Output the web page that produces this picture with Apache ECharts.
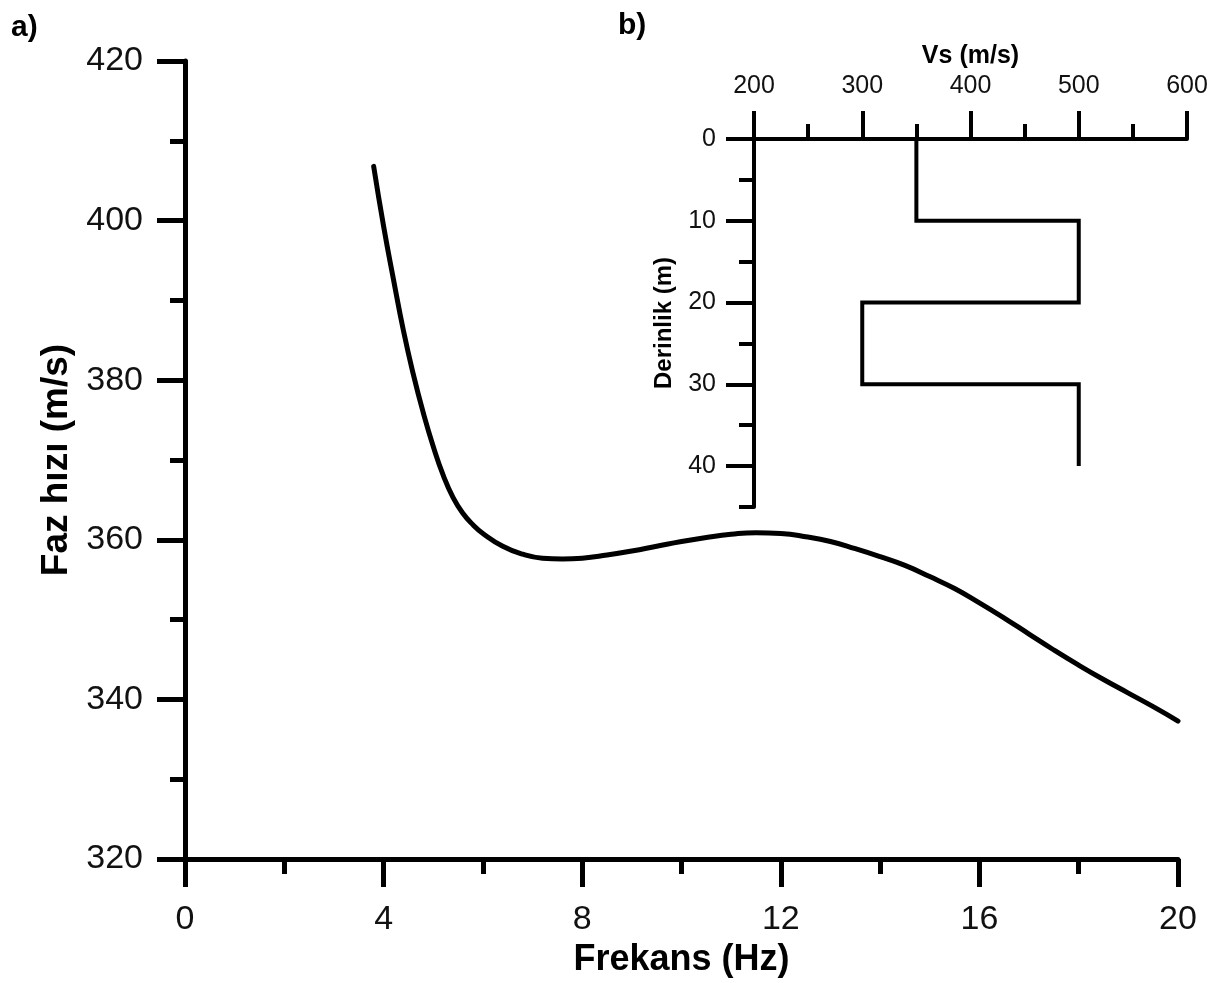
<!DOCTYPE html>
<html>
<head>
<meta charset="utf-8">
<script src="https://cdn.jsdelivr.net/npm/echarts@6/dist/echarts.min.js"></script>
<style>
html,body{margin:0;padding:0;background:#fff;}
#chart{width:1221px;height:983px;}
</style>
</head>
<body>
<div id="chart"></div>
<script>
// Main dispersion curve: frequency (Hz) vs phase velocity (m/s)
var freqHz = [3.8, 4.0, 4.2, 4.4, 4.6, 4.8, 5.0, 5.2, 5.4, 5.6, 5.8, 6.0, 6.4, 6.8, 7.2, 7.6, 8.0, 8.5, 9.0, 9.5, 10.0, 10.5, 11.0, 11.5, 12.0, 12.5, 13.0, 13.5, 14.0, 14.5, 15.0, 15.5, 16.0, 16.5, 17.0, 17.5, 18.0, 18.5, 19.0, 19.5, 20.0];
var phaseVel = [406.8, 399.3, 392.6, 386.2, 380.7, 375.9, 371.7, 368.1, 365.3, 363.3, 361.9, 360.8, 359.2, 358.2, 357.7, 357.6, 357.7, 358.1, 358.6, 359.2, 359.8, 360.3, 360.7, 360.9, 360.8, 360.4, 359.8, 358.9, 357.9, 356.8, 355.4, 353.9, 352.1, 350.2, 348.2, 346.2, 344.3, 342.5, 340.8, 339.1, 337.3];

// Inset: Vs profile (step) vs depth
var vsProfile = [350, 350, 500, 500, 300, 300, 500, 500];
var depthProfile = [0, 10, 10, 20, 20, 30, 30, 40];

var xTicksMain = [0, 4, 8, 12, 16, 20];
var yTicksMain = [320, 340, 360, 380, 400, 420];
var vsTicks = [200, 300, 400, 500, 600];
var depthMajor = [0, 10, 20, 30, 40];
var depthMinor = [5, 15, 25, 35, 45];

var FONT = '"Liberation Sans", Arial, Helvetica, sans-serif';
var INK = '#000';

var mainData = freqHz.map(function (f, i) { return [f, phaseVel[i]]; });
var insetData = vsProfile.map(function (v, i) { return [v, depthProfile[i]]; });

var chart = echarts.init(document.getElementById('chart'), null, {renderer: 'canvas'});
chart.setOption({
  backgroundColor: '#fff',
  animation: false,
  title: [
    {text: 'a)', left: 6, top: 8, textStyle: {fontFamily: FONT, fontWeight: 'bold', fontSize: 30, color: INK}},
    {text: 'b)', left: 613, top: 6, textStyle: {fontFamily: FONT, fontWeight: 'bold', fontSize: 30, color: INK}}
  ],
  grid: [
    {left: 185, right: 43, top: 61, bottom: 122, containLabel: false},
    {left: 754, right: 34, top: 139, bottom: 476, containLabel: false}
  ],
  xAxis: [
    {
      gridIndex: 0, type: 'value', min: 0, max: 20, interval: 4,
      name: 'Frekans (Hz)', nameLocation: 'middle', nameGap: 79,
      nameTextStyle: {fontFamily: FONT, fontWeight: 'bold', fontSize: 36, color: INK},
      axisLine: {show: true, lineStyle: {color: INK, width: 5}},
      axisTick: {show: true, length: 28, lineStyle: {color: INK, width: 5}},
      minorTick: {show: true, splitNumber: 2, length: 15, lineStyle: {color: INK, width: 5}},
      axisLabel: {fontFamily: FONT, fontSize: 34, color: '#111', margin: 44,
        customValues: xTicksMain},
      splitLine: {show: false}
    },
    {
      gridIndex: 1, type: 'value', position: 'top', min: 200, max: 600, interval: 100,
      name: 'Vs (m/s)', nameLocation: 'middle', nameGap: 70,
      nameTextStyle: {fontFamily: FONT, fontWeight: 'bold', fontSize: 25, color: INK},
      axisLine: {show: true, lineStyle: {color: INK, width: 4}},
      axisTick: {show: true, length: 28, lineStyle: {color: INK, width: 4}},
      minorTick: {show: true, splitNumber: 2, length: 15, lineStyle: {color: INK, width: 4}},
      axisLabel: {fontFamily: FONT, fontSize: 25, color: '#111', margin: 40,
        customValues: vsTicks},
      splitLine: {show: false}
    }
  ],
  yAxis: [
    {
      gridIndex: 0, type: 'value', min: 320, max: 420, interval: 20,
      name: 'Faz hızı (m/s)', nameLocation: 'middle', nameGap: 103,
      nameTextStyle: {fontFamily: FONT, fontWeight: 'bold', fontSize: 37, color: INK},
      axisLine: {show: true, lineStyle: {color: INK, width: 5}},
      axisTick: {show: true, length: 28, lineStyle: {color: INK, width: 5}},
      minorTick: {show: true, splitNumber: 2, length: 15, lineStyle: {color: INK, width: 5}},
      axisLabel: {fontFamily: FONT, fontSize: 34, color: '#111', margin: 42,
        customValues: yTicksMain},
      splitLine: {show: false}
    },
    {
      gridIndex: 1, type: 'value', position: 'left', inverse: true, min: 0, max: 45,
      name: 'Derinlik (m)', nameLocation: 'middle', nameGap: 78,
      nameTextStyle: {fontFamily: FONT, fontWeight: 'bold', fontSize: 24, color: INK},
      axisLine: {show: true, lineStyle: {color: INK, width: 4}},
      axisTick: {show: true, length: 28, customValues: depthMajor, lineStyle: {color: INK, width: 4}},
      axisLabel: {fontFamily: FONT, fontSize: 25, color: '#111', margin: 38,
        customValues: depthMajor},
      splitLine: {show: false}
    },
    {
      gridIndex: 1, type: 'value', position: 'left', offset: 0, inverse: true, min: 0, max: 45,
      axisLine: {show: false},
      axisTick: {show: true, length: 15, customValues: depthMinor, lineStyle: {color: INK, width: 4}},
      axisLabel: {show: false},
      splitLine: {show: false}
    }
  ],
  series: [
    {
      type: 'line', xAxisIndex: 0, yAxisIndex: 0, data: mainData,
      smooth: 0.5, showSymbol: false, symbol: 'none',
      lineStyle: {color: INK, width: 5, cap: 'round', join: 'round'}
    },
    {
      type: 'line', xAxisIndex: 1, yAxisIndex: 1, data: insetData,
      smooth: false, showSymbol: false, symbol: 'none',
      lineStyle: {color: INK, width: 4, cap: 'butt', join: 'miter'}
    }
  ]
});
</script>
</body>
</html>
